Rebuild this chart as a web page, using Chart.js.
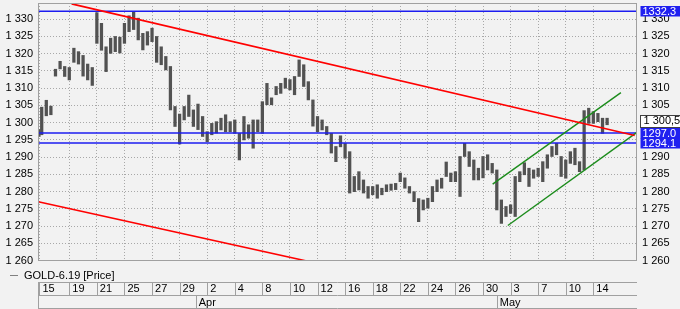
<!DOCTYPE html>
<html><head><meta charset="utf-8">
<script src="https://cdn.jsdelivr.net/npm/chart.js@4/dist/chart.umd.min.js"></script>
<style>html,body{margin:0;padding:0;background:#f2f2f2;overflow:hidden}canvas{display:block}</style>
</head><body>
<canvas id="c" width="680" height="309" style="width:680px;height:309px"></canvas>
<script>
// ---- data ----
const seriesName = 'GOLD-6.19 [Price]';
const dateTickSlots = [-0.5, 6, 12, 18, 24, 30, 36, 42, 48, 54, 60, 66, 72, 78, 84, 90, 96, 102, 108, 114, 120];
const dateTickLabels = ['15','19','21','25','27','29','2','4','8','10','12','16','18','22','24','26','30','3','7','10','14'];
const monthTickSlots = [33.5, 99];
const monthTickLabels = ['Apr', 'May'];
const priceTicks = [1260, 1265, 1270, 1275, 1280, 1285, 1290, 1295, 1300, 1305, 1310, 1315, 1320, 1325, 1330];

const lows = [1296.0,1296.5,1302.0,1302.3,1313.5,1315.6,1313.4,1312.4,1317.5,1317.0,1313.5,1312.4,1310.8,1323.0,1321.0,1314.8,1320.1,1320.6,1320.2,1323.0,1326.4,1327.0,1324.0,1321.1,1322.5,1323.5,1317.5,1316.8,1315.3,1303.7,1298.9,1293.8,1300.8,1301.8,1298.9,1298.0,1296.0,1294.5,1296.5,1297.0,1297.9,1297.4,1297.4,1296.9,1289.2,1295.0,1295.5,1292.6,1297.4,1296.9,1305.2,1305.2,1308.1,1308.5,1310.0,1309.5,1308.1,1313.4,1310.5,1306.6,1299.0,1297.4,1297.9,1296.5,1291.2,1288.7,1293.0,1289.7,1279.6,1280.0,1280.5,1279.6,1278.1,1279.1,1278.1,1279.1,1280.0,1280.4,1280.6,1282.9,1281.0,1279.6,1277.1,1271.3,1274.7,1275.2,1277.1,1280.0,1281.0,1284.4,1282.9,1282.9,1278.6,1290.2,1287.3,1283.4,1283.4,1284.0,1286.3,1285.4,1274.7,1270.8,1272.8,1273.7,1272.8,1282.9,1284.9,1281.5,1283.9,1284.4,1282.9,1286.8,1290.2,1290.7,1284.4,1283.9,1288.2,1287.8,1285.8,1286.3,1299.8,1299.8,1300.3,1296.9,1299.4];
const highs = [1298.0,1304.5,1306.5,1304.8,1315.5,1317.8,1316.3,1316.0,1321.6,1320.6,1319.5,1317.0,1316.0,1331.9,1328.8,1322.0,1324.5,1325.0,1324.8,1328.8,1331.0,1332.2,1330.3,1325.9,1326.4,1327.4,1325.0,1322.0,1319.2,1316.3,1304.7,1302.5,1304.7,1308.0,1303.7,1305.4,1301.8,1297.4,1299.8,1300.3,1301.3,1302.3,1300.3,1300.8,1296.9,1301.8,1299.4,1300.8,1300.8,1306.1,1311.4,1307.2,1310.5,1311.4,1312.9,1312.5,1313.4,1318.2,1316.8,1311.9,1306.6,1301.8,1300.8,1298.9,1296.9,1293.1,1296.2,1294.0,1291.6,1284.4,1285.8,1283.4,1281.5,1281.5,1282.0,1281.0,1282.0,1282.2,1282.4,1285.4,1284.0,1281.5,1280.0,1278.0,1277.6,1278.1,1281.5,1283.4,1283.9,1288.6,1285.4,1285.8,1290.2,1294.0,1291.6,1289.2,1286.8,1290.2,1290.7,1288.2,1286.3,1277.6,1275.7,1276.2,1284.4,1285.8,1288.4,1286.8,1286.3,1286.8,1288.7,1290.7,1293.1,1294.0,1290.2,1289.2,1291.6,1292.6,1288.7,1303.5,1304.2,1303.2,1302.7,1301.3,1301.3];

const resistanceLine = [[6.5, 1334.45], [129.0, 1296.3]];
const lowerRedLine = [[-0.74, 1277.1], [57.65, 1259.9]];
const channelUpper = [[98.1, 1282.2], [126.0, 1308.7]];
const channelLower = [[101.4, 1270.2], [129.4, 1297.1]];
const levels = [1332.3, 1297.0, 1294.1];
const lastPrice = 1300.5;

// ---- config ----
const X_MIN = -0.805, X_MAX = 129.5, Y_MIN = 1259.9, Y_MAX = 1334.7;
const FONT = '"Liberation Sans", Arial, sans-serif';
Chart.defaults.font.family = FONT;
Chart.defaults.font.size = 11;
Chart.defaults.color = '#000';

const groupThousands = s => s.slice(0, s.length - 3) + ' ' + s.slice(-3);
const fmtPrice = v => groupThousands(String(v));
const fmtLast = v => { const [i, d] = v.toFixed(1).split('.'); return groupThousands(i) + ',' + d; };
const barSlot = i => (i === 0 ? -0.6 : i - 1);
const pts = arr => arr.map(p => ({x: p[0], y: p[1]}));
const lineDs = (data, color, w) => ({type: 'line', data, borderColor: color, borderWidth: w, pointRadius: 0, tension: 0, fill: false, order: 0});

const datasets = [
  lineDs(pts(resistanceLine), '#ff0000', 1.6),
  lineDs(pts(lowerRedLine), '#ff0000', 1.6),
  lineDs(pts(channelUpper), '#1c8c1c', 1.4),
  lineDs(pts(channelLower), '#1c8c1c', 1.4),
  ...levels.map(v => lineDs([{x: X_MIN, y: v}, {x: X_MAX, y: v}], '#1c1cf0', 1.6)),
  {type: 'bar', label: seriesName, order: 10, backgroundColor: '#525252', borderWidth: 0, barThickness: 2.6,
   data: lows.map((lo, i) => ({x: barSlot(i), y: [lo, highs[i]]}))}
];

const decor = {
  id: 'decor',
  afterDraw(chart) {
    const c = chart.ctx, a = chart.chartArea;
    const xs = chart.scales.x, x2 = chart.scales.x2, yR = chart.scales.yR;
    c.save();
    // frame
    c.strokeStyle = '#a0a0a0'; c.lineWidth = 1;
    c.strokeRect(a.left + 0.5, a.top + 0.5, a.right - a.left - 1, a.bottom - a.top - 1);
    // date / month rows
    const rTop = Math.round(xs.top + 20.5) + 0.5, rMid = Math.round(xs.bottom) + 0.5, rBot = Math.round(x2.bottom) - 0.5;
    c.beginPath();
    c.moveTo(a.left, rTop); c.lineTo(a.right, rTop);
    c.moveTo(a.left, rMid); c.lineTo(a.right, rMid);
    c.moveTo(a.left, rBot); c.lineTo(a.right, rBot);
    c.moveTo(a.left + 0.5, rTop); c.lineTo(a.left + 0.5, rBot);
    dateTickSlots.forEach(v => { const p = Math.round(xs.getPixelForValue(v)) + 0.5; c.moveTo(p, rTop); c.lineTo(p, rMid); });
    monthTickSlots.forEach(v => { const p = Math.round(x2.getPixelForValue(v)) + 0.5; c.moveTo(p, rMid); c.lineTo(p, rBot); });
    c.stroke();
    // legend
    const ly = Math.round(a.bottom + 13.5) + 0.5;
    c.strokeStyle = '#808080';
    c.beginPath(); c.moveTo(10, ly); c.lineTo(18, ly); c.stroke();
    c.fillStyle = '#000'; c.font = '11px ' + FONT; c.textBaseline = 'middle'; c.textAlign = 'left';
    c.fillText(seriesName, 24, ly);
    // badges
    const bx = a.right + 3.5, bw = chart.width - bx + 1;
    const lp = yR.getPixelForValue(lastPrice);
    c.fillStyle = '#ffffff'; c.strokeStyle = '#404040';
    c.fillRect(bx, Math.round(lp - 6) + 0.5, bw, 12); c.strokeRect(bx, Math.round(lp - 6) + 0.5, bw, 12);
    c.fillStyle = '#000';
    c.fillText(fmtLast(lastPrice), bx + 3, lp + 0.5);
    levels.forEach(v => {
      const p = yR.getPixelForValue(v);
      c.fillStyle = '#2020f0';
      c.fillRect(bx, Math.round(p - 5), bw, 10.5);
      c.fillStyle = '#ffffff';
      c.fillText(v.toFixed(1), bx + 2, p + 0.5);
    });
    c.restore();
  }
};

new Chart(document.getElementById('c'), {
  type: 'bar',
  data: {datasets},
  options: {
    responsive: false, animation: false, devicePixelRatio: 1,
    layout: {padding: {top: 3, left: 0, right: 0, bottom: 0}},
    plugins: {legend: {display: false}, tooltip: {enabled: false}},
    scales: {
      x: {type: 'linear', position: 'bottom', min: X_MIN, max: X_MAX, weight: 0, offset: false,
        afterBuildTicks: s => { s.ticks = dateTickSlots.map(v => ({value: v})); },
        afterFit: s => { s.height = 34; s.paddingLeft = 0; s.paddingRight = 0; },
        ticks: {autoSkip: false, maxRotation: 0, minRotation: 0, align: 'start', labelOffset: 3, padding: 21,
          callback: (v, i) => dateTickLabels[i]},
        grid: {color: '#a8a8a8', lineWidth: 1, drawTicks: false, offset: false},
        border: {display: false, dash: [1, 2]}},
      x2: {type: 'linear', position: 'bottom', min: X_MIN, max: X_MAX, weight: 1, offset: false,
        afterBuildTicks: s => { s.ticks = monthTickSlots.map(v => ({value: v})); },
        afterFit: s => { s.height = 14; s.paddingLeft = 0; s.paddingRight = 0; },
        ticks: {autoSkip: false, maxRotation: 0, minRotation: 0, align: 'start', labelOffset: 3, padding: 1,
          callback: (v, i) => monthTickLabels[i]},
        grid: {display: false, drawTicks: false, offset: false}, border: {display: false}},
      y: {type: 'linear', position: 'left', min: Y_MIN, max: Y_MAX,
        afterBuildTicks: s => { s.ticks = priceTicks.map(v => ({value: v})); },
        afterFit: s => { s.width = 38; s.paddingTop = 0; s.paddingBottom = 0; },
        ticks: {autoSkip: false, padding: 5, callback: v => fmtPrice(v)},
        grid: {color: '#a8a8a8', lineWidth: 1, drawTicks: false},
        border: {display: false, dash: [1, 2]}},
      yR: {type: 'linear', position: 'right', min: Y_MIN, max: Y_MAX,
        afterBuildTicks: s => { s.ticks = priceTicks.map(v => ({value: v})); },
        afterFit: s => { s.width = 43; s.paddingTop = 0; s.paddingBottom = 0; },
        ticks: {autoSkip: false, padding: 5, callback: v => fmtPrice(v)},
        grid: {display: false, drawTicks: false}, border: {display: false}}
    }
  },
  plugins: [decor]
});
</script>
</body></html>
